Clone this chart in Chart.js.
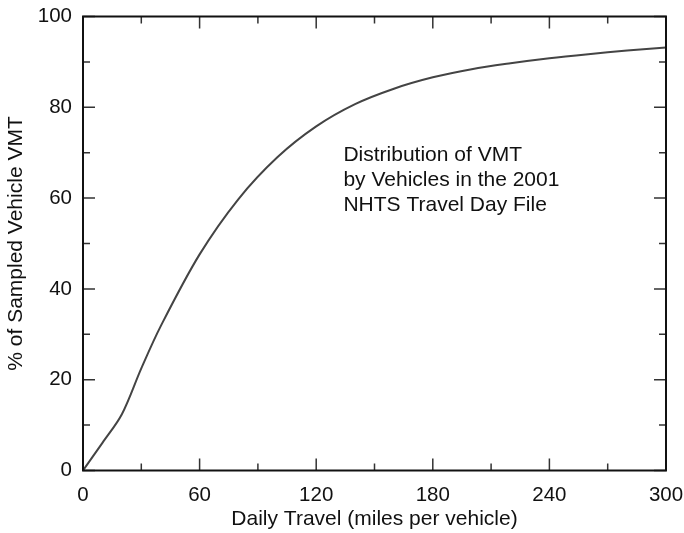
<!DOCTYPE html>
<html>
<head>
<meta charset="utf-8">
<script src="https://cdn.jsdelivr.net/npm/chart.js@4.4.1/dist/chart.umd.min.js"></script>
<style>
  html, body { margin: 0; padding: 0; background: #fff; }
</style>
</head>
<body>
<canvas id="vmtChart" width="684" height="533"></canvas>
<script>
// cumulative share of VMT vs daily travel per vehicle
const travelMiles = [0, 10, 20, 30, 40, 60, 80, 100, 120, 140, 160, 180, 200, 220, 240, 260, 280, 300];
const vmtShare = [0, 6.1, 12.4, 22.5, 31.8, 47.6, 59.8, 69.0, 75.8, 80.7, 84.1, 86.6, 88.4, 89.7, 90.8, 91.7, 92.5, 93.2];

const xMajorTicks = [0, 60, 120, 180, 240, 300];
const xMinorTicks = [30, 90, 150, 210, 270];
const yMajorTicks = [0, 20, 40, 60, 80, 100];
const yMinorTicks = [10, 30, 50, 70, 90];

const noteLines = ["Distribution of VMT", "by Vehicles in the 2001", "NHTS Travel Day File"];
const noteAt = { x: 134, y: 69.5 };

const FONT = "'Liberation Sans', Arial, Helvetica, sans-serif";

// frame + inward ticks on all four sides, and the text note
const framePlugin = {
    id: "frame",
    afterDraw(chart) {
        const { ctx, chartArea: a, scales } = chart;
        const xs = scales.x, ys = scales.y;
        ctx.save();
        ctx.strokeStyle = "#333";
        ctx.lineWidth = 1.5;
        const tickX = (vals, len) => {
            vals.forEach(v => {
                const px = xs.getPixelForValue(v);
                ctx.beginPath();
                ctx.moveTo(px, a.bottom); ctx.lineTo(px, a.bottom - len);
                ctx.moveTo(px, a.top); ctx.lineTo(px, a.top + len);
                ctx.stroke();
            });
        };
        const tickY = (vals, len) => {
            vals.forEach(v => {
                const py = ys.getPixelForValue(v);
                ctx.beginPath();
                ctx.moveTo(a.left, py); ctx.lineTo(a.left + len, py);
                ctx.moveTo(a.right, py); ctx.lineTo(a.right - len, py);
                ctx.stroke();
            });
        };
        tickX(xMajorTicks, 12);
        tickX(xMinorTicks, 7);
        tickY(yMajorTicks, 12);
        tickY(yMinorTicks, 7);

        ctx.strokeStyle = "#111";
        ctx.lineWidth = 2;
        ctx.strokeRect(a.left, a.top, a.right - a.left, a.bottom - a.top);

        ctx.fillStyle = "#111";
        ctx.font = "21px " + FONT;
        ctx.textAlign = "left";
        ctx.textBaseline = "middle";
        const nx = xs.getPixelForValue(noteAt.x);
        const ny = ys.getPixelForValue(noteAt.y);
        noteLines.forEach((t, i) => ctx.fillText(t, nx, ny + i * 25));
        ctx.restore();
    }
};

new Chart(document.getElementById("vmtChart").getContext("2d"), {
    type: "line",
    data: {
        datasets: [{
            data: travelMiles.map((m, i) => ({ x: m, y: vmtShare[i] })),
            borderColor: "#444",
            borderWidth: 2,
            pointRadius: 0,
            tension: 0.33,
            fill: false
        }]
    },
    options: {
        responsive: false,
        animation: false,
        layout: { padding: { top: 16.5, right: 18, left: 0, bottom: 0 } },
        plugins: {
            legend: { display: false },
            tooltip: { enabled: false }
        },
        scales: {
            x: {
                type: "linear",
                min: 0,
                max: 300,
                grid: { display: false, drawTicks: false },
                border: { display: false },
                ticks: {
                    stepSize: 60,
                    padding: 12.5,
                    color: "#111",
                    font: { family: FONT, size: 20.5 }
                },
                title: {
                    display: true,
                    text: "Daily Travel (miles per vehicle)",
                    color: "#111",
                    font: { family: FONT, size: 21 },
                    padding: { top: 0, bottom: 1 }
                },
                afterFit(scale) {
                    scale.height = 62.5;
                    scale.paddingLeft = 0;
                    scale.paddingRight = 0;
                }
            },
            y: {
                min: 0,
                max: 100,
                grid: { display: false, drawTicks: false },
                border: { display: false },
                ticks: {
                    stepSize: 20,
                    padding: 11,
                    color: "#111",
                    font: { family: FONT, size: 20.5 }
                },
                title: {
                    display: true,
                    text: "% of Sampled Vehicle VMT",
                    color: "#111",
                    font: { family: FONT, size: 21 },
                    padding: { top: 4, bottom: 0 }
                },
                afterFit(scale) {
                    scale.width = 83;
                    scale.paddingTop = 0;
                    scale.paddingBottom = 0;
                }
            }
        }
    },
    plugins: [framePlugin]
});
</script>
</body>
</html>
